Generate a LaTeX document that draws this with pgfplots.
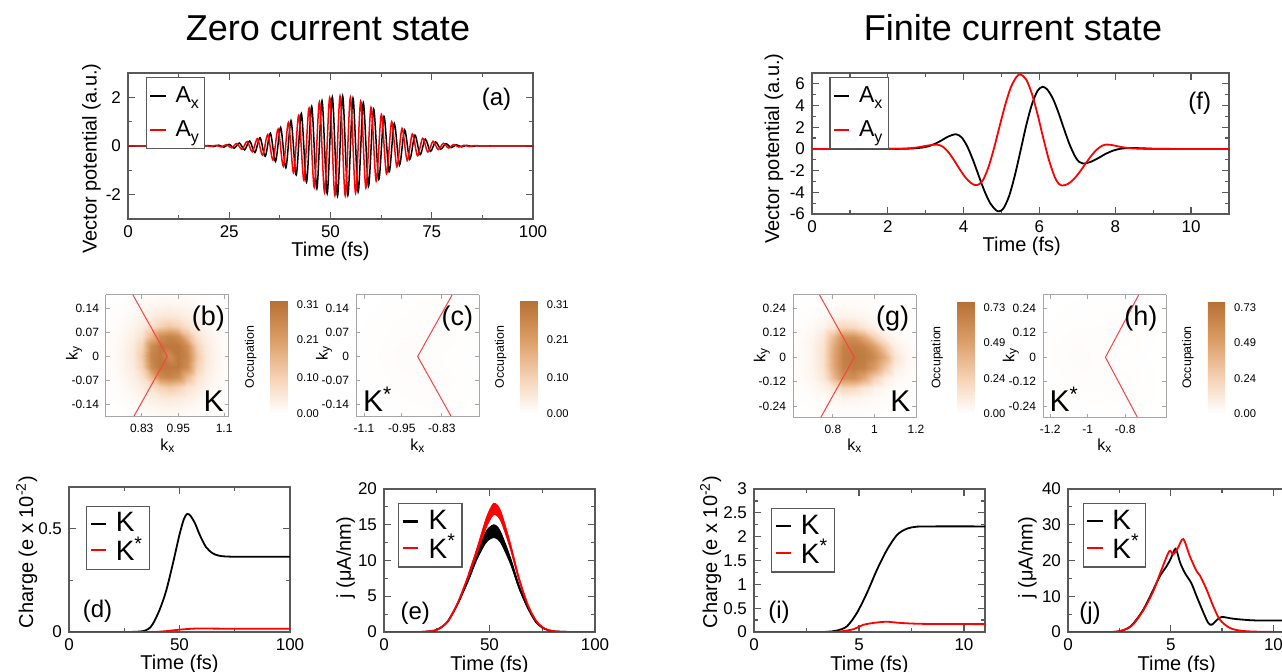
\documentclass[border=0pt]{standalone}
\usepackage{fontspec}
\setmainfont{Liberation Sans}
\usepackage{pgfplots}
\pgfplotsset{compat=1.18}

\newcommand\fTitle{\fontsize{18}{21}\selectfont}
\newcommand\fTick{\fontsize{8.5}{10}\selectfont}
\newcommand\fLab{\fontsize{10}{12}\selectfont}
\newcommand\fLeg{\fontsize{14}{15}\selectfont}
\newcommand\fLegA{\fontsize{11.5}{13}\selectfont}
\newcommand\fPan{\fontsize{12}{14}\selectfont}
\newcommand\fHtick{\fontsize{6}{7}\selectfont}
\newcommand\fCtick{\fontsize{5.6}{6.5}\selectfont}
\newcommand\fHlab{\fontsize{8}{9}\selectfont}
\newcommand\fHK{\fontsize{15}{17}\selectfont}
\newcommand\fHpan{\fontsize{13.5}{15}\selectfont}
\newcommand\fOcc{\fontsize{6.2}{7}\selectfont}
\newcommand\sub[1]{\raisebox{-0.5ex}{\fontsize{8}{8}\selectfont #1}}

\pgfplotsset{
  colormap={occ}{rgb255(0cm)=(255,255,255) rgb255(3cm)=(247,212,184) rgb255(6.5cm)=(220,158,104) rgb255(10cm)=(182,112,52)},
  lp/.style={scale only axis, anchor=south west,
    axis line style={black!65, line width=0.6pt},
    tick style={black!65, line width=0.6pt},
    tick align=inside, major tick length=3.5pt, minor tick length=2pt,
    ticklabel style={font=\fTick},
    /pgf/number format/assume math mode=true,
    clip mode=individual},
  leg/.style={legend style={at={(#1)}, anchor=north west, draw=black!65, line width=0.6pt,
      fill=white, font=\fLeg, inner xsep=1.5pt, inner ysep=1.5pt, row sep=-2pt,
      nodes={inner sep=1.5pt}, cells={anchor=west},
      /tikz/every odd column/.append style={column sep=3pt}},
    legend image code/.code={\draw[##1, line width=0.9pt] (0pt,0pt) -- (7.7pt,0pt);}},
  hm/.style={scale only axis, anchor=south west, view={0}{90}, width=61.5pt,
    axis line style={black!35, line width=0.5pt},
    tick style={black!35, line width=0.4pt},
    tick align=inside, major tick length=2.2pt, minor tick length=1.2pt,
    ticklabel style={font=\fHtick},
    enlargelimits=false, axis on top, colormap name=occ, point meta min=0,
    clip mode=individual, colorbar},
  cb/.style n args={3}{colorbar style={at={(parent axis.south east)}, anchor=south west,
      xshift=#1, yshift=#2, width=8.7pt, height=#3,
      axis line style={draw=none}, major tick length=0pt, minor tick num=0,
      yticklabel style={font=\fCtick, xshift=1pt},
      every axis y label/.style={at={(axis description cs:-0.4,0.5)}, anchor=south, rotate=90, font=\fOcc},
      ylabel=Occupation}},
}

\begin{document}
\begin{tikzpicture}
\useasboundingbox (0,0) rectangle (641pt,336pt);

\node[font=\fTitle, anchor=base] at (164pt,315.5pt) {Zero current state};
\node[font=\fTitle, anchor=base] at (506.5pt,315.5pt) {Finite current state};

% ---------------- (a)
\begin{axis}[lp, at={(64pt,226.5pt)}, width=202.5pt, height=73pt,
  xmin=0, xmax=100, ymin=-3, ymax=3, xtick={0,25,50,75,100}, ytick={-2,0,2},
  minor tick num=1, leg={0.0437,0.9705}, legend style={font=\fLegA, row sep=4.5pt, inner ysep=3pt}]
\addplot[draw=black, line width=0.75pt, smooth] coordinates {
(0,0) (10,0) (18.5,0)
(19.85,0.016) (21.13,-0.023) (22.40,0.033) (23.68,-0.047) (24.95,0.065) (26.23,-0.089)
(27.50,0.120) (28.78,-0.159) (30.05,0.207) (31.33,-0.267) (32.60,0.339) (33.88,-0.424)
(35.15,0.522) (36.43,-0.633) (37.70,0.758) (38.98,-0.893) (40.25,1.037) (41.53,-1.186)
(42.80,1.337) (44.08,-1.485) (45.35,1.625) (46.63,-1.752) (47.90,1.862) (49.18,-1.950)
(50.45,2.011) (51.73,-2.044) (53.00,2.048) (54.28,-2.021) (55.55,1.965) (56.83,-1.883)
(58.10,1.778) (59.38,-1.654) (60.65,1.516) (61.93,-1.369) (63.20,1.218) (64.48,-1.068)
(65.75,0.923) (67.03,-0.786) (68.30,0.659) (69.58,-0.545) (70.85,0.444) (72.13,-0.356)
(73.40,0.282) (74.68,-0.219) (75.95,0.168) (77.23,-0.127) (78.50,0.095) (79.78,-0.070)
(81.05,0.050) (82.33,-0.036) (83.60,0.025) (84.88,-0.018) (86.15,0.012)
(87.5,0) (95,0) (100,0)};
\addplot[draw=red, line width=0.75pt, smooth] coordinates {
(0,0) (10,0) (17.9,0)
(19.21,0.013) (20.49,-0.019) (21.76,0.028) (23.04,-0.040) (24.31,0.055) (25.59,-0.076)
(26.86,0.103) (28.14,-0.138) (29.41,0.182) (30.69,-0.236) (31.96,0.301) (33.24,-0.379)
(34.51,0.471) (35.79,-0.576) (37.06,0.694) (38.34,-0.824) (39.61,0.963) (40.89,-1.110)
(42.16,1.261) (43.44,-1.411) (44.71,1.556) (45.99,-1.690) (47.26,1.810) (48.54,-1.909)
(49.81,1.984) (51.09,-2.031) (52.36,2.050) (53.64,-2.038) (54.91,1.997) (56.19,-1.927)
(57.46,1.833) (58.74,-1.718) (60.01,1.587) (61.29,-1.443) (62.56,1.294) (63.84,-1.143)
(65.11,0.995) (66.39,-0.853) (67.66,0.721) (68.94,-0.600) (70.21,0.493) (71.49,-0.398)
(72.76,0.317) (74.04,-0.249) (75.31,0.193) (76.59,-0.147) (77.86,0.110) (79.14,-0.082)
(80.41,0.059) (81.69,-0.043) (82.96,0.030) (84.24,-0.021) (85.51,0.015)
(86.8,0) (95,0) (100,0)};
\legend{A\sub{x}, A\sub{y}}
\node[font=\fPan] at (axis description cs:0.91,0.82) {(a)};
\node[font=\fLab, rotate=90] at (axis description cs:-0.090,0.414) {Vector potential (a.u.)};
\node[font=\fLab, anchor=base] at (axis description cs:0.5,-0.258) {Time (fs)};
\end{axis}

% ---------------- (f)
\begin{axis}[lp, at={(406pt,229pt)}, width=208.5pt, height=70.5pt,
  xmin=0, xmax=11, ymin=-6, ymax=7, xtick={0,2,4,6,8,10}, ytick={-6,-4,-2,0,2,4,6},
  minor tick num=1, leg={0.0415,0.9695}, legend style={font=\fLegA, row sep=4.5pt, inner ysep=3pt}]
\addplot[draw=black, line width=0.9pt, smooth] coordinates {
(0,0) (2,0) (2.5,0.02) (2.8,0.08) (3.0,0.18) (3.2,0.4) (3.4,0.75) (3.6,1.15) (3.8,1.35)
(3.95,1.05) (4.1,0.2) (4.25,-1.05) (4.4,-2.49) (4.55,-3.89) (4.7,-5.0) (4.85,-5.64)
(4.94,-5.75) (5.05,-5.49) (5.2,-4.34) (5.35,-2.46) (5.5,-0.18) (5.65,2.15) (5.8,4.09)
(5.95,5.36) (6.08,5.72) (6.2,5.5) (6.35,4.67) (6.5,3.36) (6.65,1.82) (6.8,0.36)
(6.95,-0.76) (7.05,-1.2) (7.15,-1.35) (7.35,-1.2) (7.55,-0.85) (7.75,-0.45) (7.95,-0.15)
(8.15,0.02) (8.4,0.08) (8.7,0.06) (9.0,0.02) (9.5,0) (11,0)};
\addplot[draw=red, line width=0.9pt, smooth] coordinates {
(0,0) (2,0) (2.5,0.04) (2.8,0.15) (3.0,0.28) (3.2,0.38) (3.3,0.4) (3.45,0.21) (3.6,-0.31)
(3.75,-1.06) (3.9,-1.89) (4.05,-2.64) (4.2,-3.16) (4.35,-3.35) (4.5,-2.93) (4.65,-1.73)
(4.8,0.05) (4.95,2.1) (5.1,4.1) (5.25,5.72) (5.4,6.67) (5.5,6.86) (5.65,6.4) (5.8,5.09)
(5.95,3.18) (6.1,1.01) (6.25,-1.02) (6.4,-2.57) (6.5,-3.17) (6.6,-3.38) (6.75,-3.23)
(6.9,-2.81) (7.05,-2.18) (7.2,-1.44) (7.35,-0.71) (7.5,-0.1) (7.65,0.29) (7.78,0.4)
(7.95,0.33) (8.15,0.18) (8.4,0.06) (8.7,0.01) (9.0,0) (11,0)};
\legend{A\sub{x}, A\sub{y}}
\node[font=\fPan] at (axis description cs:0.93,0.785) {(f)};
\node[font=\fLab, rotate=90] at (axis description cs:-0.091,0.465) {Vector potential (a.u.)};
\node[font=\fLab, anchor=base] at (axis description cs:0.503,-0.267) {Time (fs)};
\end{axis}

% ---------------- (b)
\begin{axis}[hm, at={(53pt,127.5pt)}, height=61pt,
  xmin=0.713, xmax=1.116, ymin=-0.177, ymax=0.18,
  xtick={0.83,0.95,1.1}, xticklabels={0.83,0.95,1.1},
  ytick={-0.14,-0.07,0,0.07,0.14}, yticklabels={-0.14,-0.07,0,0.07,0.14},
  point meta max=0.32, cb={12.2pt}{1.85pt}{56.3pt},
  colorbar style={ytick={0,0.10,0.21,0.31}, yticklabels={0.00,0.10,0.21,0.31}}]
\addplot3[surf, shader=interp, mesh/cols=15] coordinates {
(0.71,-0.18,0) (0.74,-0.18,0.001) (0.77,-0.18,0.002) (0.80,-0.18,0.004) (0.83,-0.18,0.005) (0.86,-0.18,0.008) (0.89,-0.18,0.01) (0.92,-0.18,0.01) (0.95,-0.18,0.01) (0.98,-0.18,0.008) (1.01,-0.18,0.005) (1.04,-0.18,0.004) (1.07,-0.18,0.002) (1.10,-0.18,0.001) (1.13,-0.18,0)
(0.71,-0.15,0.001) (0.74,-0.15,0.002) (0.77,-0.15,0.004) (0.80,-0.15,0.007) (0.83,-0.15,0.012) (0.86,-0.15,0.018) (0.89,-0.15,0.022) (0.92,-0.15,0.025) (0.95,-0.15,0.022) (0.98,-0.15,0.018) (1.01,-0.15,0.012) (1.04,-0.15,0.007) (1.07,-0.15,0.004) (1.10,-0.15,0.002) (1.13,-0.15,0.001)
(0.71,-0.12,0.002) (0.74,-0.12,0.004) (0.77,-0.12,0.007) (0.80,-0.12,0.014) (0.83,-0.12,0.024) (0.86,-0.12,0.035) (0.89,-0.12,0.045) (0.92,-0.12,0.05) (0.95,-0.12,0.045) (0.98,-0.12,0.035) (1.01,-0.12,0.024) (1.04,-0.12,0.014) (1.07,-0.12,0.007) (1.10,-0.12,0.004) (1.13,-0.12,0.002)
(0.71,-0.09,0.003) (0.74,-0.09,0.005) (0.77,-0.09,0.012) (0.80,-0.09,0.024) (0.83,-0.09,0.04) (0.86,-0.09,0.065) (0.89,-0.09,0.10) (0.92,-0.09,0.12) (0.95,-0.09,0.10) (0.98,-0.09,0.065) (1.01,-0.09,0.04) (1.04,-0.09,0.024) (1.07,-0.09,0.012) (1.10,-0.09,0.005) (1.13,-0.09,0.003)
(0.71,-0.06,0.004) (0.74,-0.06,0.008) (0.77,-0.06,0.018) (0.80,-0.06,0.035) (0.83,-0.06,0.065) (0.86,-0.06,0.15) (0.89,-0.06,0.25) (0.92,-0.06,0.27) (0.95,-0.06,0.25) (0.98,-0.06,0.15) (1.01,-0.06,0.065) (1.04,-0.06,0.035) (1.07,-0.06,0.018) (1.10,-0.06,0.008) (1.13,-0.06,0.004)
(0.71,-0.03,0.005) (0.74,-0.03,0.01) (0.77,-0.03,0.022) (0.80,-0.03,0.045) (0.83,-0.03,0.10) (0.86,-0.03,0.25) (0.89,-0.03,0.30) (0.92,-0.03,0.30) (0.95,-0.03,0.30) (0.98,-0.03,0.25) (1.01,-0.03,0.10) (1.04,-0.03,0.045) (1.07,-0.03,0.022) (1.10,-0.03,0.01) (1.13,-0.03,0.005)
(0.71,0,0.005) (0.74,0,0.01) (0.77,0,0.025) (0.80,0,0.05) (0.83,0,0.12) (0.86,0,0.27) (0.89,0,0.30) (0.92,0,0.25) (0.95,0,0.30) (0.98,0,0.27) (1.01,0,0.12) (1.04,0,0.05) (1.07,0,0.025) (1.10,0,0.01) (1.13,0,0.005)
(0.71,0.03,0.005) (0.74,0.03,0.01) (0.77,0.03,0.022) (0.80,0.03,0.045) (0.83,0.03,0.10) (0.86,0.03,0.25) (0.89,0.03,0.30) (0.92,0.03,0.30) (0.95,0.03,0.30) (0.98,0.03,0.25) (1.01,0.03,0.10) (1.04,0.03,0.045) (1.07,0.03,0.022) (1.10,0.03,0.01) (1.13,0.03,0.005)
(0.71,0.06,0.004) (0.74,0.06,0.008) (0.77,0.06,0.018) (0.80,0.06,0.035) (0.83,0.06,0.065) (0.86,0.06,0.15) (0.89,0.06,0.25) (0.92,0.06,0.27) (0.95,0.06,0.25) (0.98,0.06,0.15) (1.01,0.06,0.065) (1.04,0.06,0.035) (1.07,0.06,0.018) (1.10,0.06,0.008) (1.13,0.06,0.004)
(0.71,0.09,0.003) (0.74,0.09,0.005) (0.77,0.09,0.012) (0.80,0.09,0.024) (0.83,0.09,0.04) (0.86,0.09,0.065) (0.89,0.09,0.10) (0.92,0.09,0.12) (0.95,0.09,0.10) (0.98,0.09,0.065) (1.01,0.09,0.04) (1.04,0.09,0.024) (1.07,0.09,0.012) (1.10,0.09,0.005) (1.13,0.09,0.003)
(0.71,0.12,0.002) (0.74,0.12,0.004) (0.77,0.12,0.007) (0.80,0.12,0.014) (0.83,0.12,0.024) (0.86,0.12,0.035) (0.89,0.12,0.045) (0.92,0.12,0.05) (0.95,0.12,0.045) (0.98,0.12,0.035) (1.01,0.12,0.024) (1.04,0.12,0.014) (1.07,0.12,0.007) (1.10,0.12,0.004) (1.13,0.12,0.002)
(0.71,0.15,0.001) (0.74,0.15,0.002) (0.77,0.15,0.004) (0.80,0.15,0.007) (0.83,0.15,0.012) (0.86,0.15,0.018) (0.89,0.15,0.022) (0.92,0.15,0.025) (0.95,0.15,0.022) (0.98,0.15,0.018) (1.01,0.15,0.012) (1.04,0.15,0.007) (1.07,0.15,0.004) (1.10,0.15,0.002) (1.13,0.15,0.001)
(0.71,0.18,0) (0.74,0.18,0.001) (0.77,0.18,0.002) (0.80,0.18,0.004) (0.83,0.18,0.005) (0.86,0.18,0.008) (0.89,0.18,0.01) (0.92,0.18,0.01) (0.95,0.18,0.01) (0.98,0.18,0.008) (1.01,0.18,0.005) (1.04,0.18,0.004) (1.07,0.18,0.002) (1.10,0.18,0.001) (1.13,0.18,0)
};
\addplot3[draw=red!75, line width=0.5pt] coordinates {(0.795,0.19,0) (0.914,0,0) (0.795,-0.19,0)};
\node[font=\fHpan] at (axis description cs:0.832,0.811) {(b)};
\node[font=\fHK, anchor=base west, inner sep=0pt] at (axis description cs:0.791,0.043) {K};
\node[font=\fHlab, rotate=90] at (axis description cs:-0.26,0.525) {k\textsubscript{y}};
\node[font=\fHlab] at (axis description cs:0.504,-0.238) {k\textsubscript{x}};
\end{axis}

% ---------------- (c)
\begin{axis}[hm, at={(178pt,127.5pt)}, height=61pt,
  xmin=-1.116, xmax=-0.713, ymin=-0.177, ymax=0.18,
  xtick={-1.09,-0.966,-0.835}, xticklabels={-1.1,-0.95,-0.83},
  ytick={-0.14,-0.07,0,0.07,0.14}, yticklabels={-0.14,-0.07,0,0.07,0.14},
  point meta max=0.32, cb={12.15pt}{1.85pt}{56.3pt},
  colorbar style={ytick={0,0.10,0.21,0.31}, yticklabels={0.00,0.10,0.21,0.31}}]
\addplot3[surf, shader=interp, mesh/cols=10] coordinates {
(-1.13,-0.18,0) (-1.08,-0.18,0) (-1.03,-0.18,0.001) (-0.98,-0.18,0.001) (-0.93,-0.18,0.002) (-0.88,-0.18,0.002) (-0.83,-0.18,0.002) (-0.78,-0.18,0.001) (-0.73,-0.18,0) (-0.68,-0.18,0)
(-1.13,-0.12,0) (-1.08,-0.12,0.001) (-1.03,-0.12,0.002) (-0.98,-0.12,0.003) (-0.93,-0.12,0.004) (-0.88,-0.12,0.005) (-0.83,-0.12,0.004) (-0.78,-0.12,0.002) (-0.73,-0.12,0.001) (-0.68,-0.12,0)
(-1.13,-0.06,0.001) (-1.08,-0.06,0.002) (-1.03,-0.06,0.003) (-0.98,-0.06,0.005) (-0.93,-0.06,0.006) (-0.88,-0.06,0.006) (-0.83,-0.06,0.005) (-0.78,-0.06,0.003) (-0.73,-0.06,0.001) (-0.68,-0.06,0)
(-1.13,0,0.001) (-1.08,0,0.002) (-1.03,0,0.004) (-0.98,0,0.007) (-0.93,0,0.008) (-0.88,0,0.005) (-0.83,0,0.003) (-0.78,0,0.002) (-0.73,0,0.001) (-0.68,0,0)
(-1.13,0.06,0.001) (-1.08,0.06,0.002) (-1.03,0.06,0.003) (-0.98,0.06,0.005) (-0.93,0.06,0.006) (-0.88,0.06,0.006) (-0.83,0.06,0.005) (-0.78,0.06,0.003) (-0.73,0.06,0.001) (-0.68,0.06,0)
(-1.13,0.12,0) (-1.08,0.12,0.001) (-1.03,0.12,0.002) (-0.98,0.12,0.003) (-0.93,0.12,0.004) (-0.88,0.12,0.005) (-0.83,0.12,0.004) (-0.78,0.12,0.002) (-0.73,0.12,0.001) (-0.68,0.12,0)
(-1.13,0.18,0) (-1.08,0.18,0) (-1.03,0.18,0.001) (-0.98,0.18,0.001) (-0.93,0.18,0.002) (-0.88,0.18,0.002) (-0.83,0.18,0.002) (-0.78,0.18,0.001) (-0.73,0.18,0) (-0.68,0.18,0)
};
\addplot3[draw=red!75, line width=0.5pt] coordinates {(-0.795,0.19,0) (-0.914,0,0) (-0.795,-0.19,0)};
\node[font=\fHpan] at (axis description cs:0.825,0.811) {(c)};
\node[font=\fHK, anchor=base west, inner sep=0pt] at (axis description cs:0.054,0.043) {K\textsuperscript{*}};
\node[font=\fHlab, rotate=90] at (axis description cs:-0.26,0.525) {k\textsubscript{y}};
\node[font=\fHlab] at (axis description cs:0.504,-0.238) {k\textsubscript{x}};
\end{axis}

% ---------------- (g)
\begin{axis}[hm, at={(396.5pt,127pt)}, height=61.5pt,
  xmin=0.608, xmax=1.2, ymin=-0.297, ymax=0.305,
  xtick={0.8,1,1.2}, xticklabels={0.8,1,1.2},
  ytick={-0.24,-0.12,0,0.12,0.24}, yticklabels={-0.24,-0.12,0,0.12,0.24},
  point meta max=0.77, cb={12pt}{2.35pt}{55.8pt},
  colorbar style={ytick={0,0.24,0.49,0.73}, yticklabels={0.00,0.24,0.49,0.73}}]
\addplot3[surf, shader=interp, mesh/cols=13] coordinates {
(0.60,-0.30,0.002) (0.65,-0.30,0.003) (0.70,-0.30,0.005) (0.75,-0.30,0.007) (0.80,-0.30,0.01) (0.85,-0.30,0.012) (0.90,-0.30,0.011) (0.95,-0.30,0.009) (1.00,-0.30,0.007) (1.05,-0.30,0.005) (1.10,-0.30,0.003) (1.15,-0.30,0.002) (1.20,-0.30,0.001)
(0.60,-0.25,0.003) (0.65,-0.25,0.005) (0.70,-0.25,0.008) (0.75,-0.25,0.014) (0.80,-0.25,0.02) (0.85,-0.25,0.025) (0.90,-0.25,0.023) (0.95,-0.25,0.018) (1.00,-0.25,0.013) (1.05,-0.25,0.009) (1.10,-0.25,0.005) (1.15,-0.25,0.003) (1.20,-0.25,0.002)
(0.60,-0.20,0.005) (0.65,-0.20,0.01) (0.70,-0.20,0.015) (0.75,-0.20,0.025) (0.80,-0.20,0.045) (0.85,-0.20,0.065) (0.90,-0.20,0.06) (0.95,-0.20,0.045) (1.00,-0.20,0.03) (1.05,-0.20,0.018) (1.10,-0.20,0.01) (1.15,-0.20,0.006) (1.20,-0.20,0.003)
(0.60,-0.15,0.008) (0.65,-0.15,0.015) (0.70,-0.15,0.03) (0.75,-0.15,0.06) (0.80,-0.15,0.13) (0.85,-0.15,0.22) (0.90,-0.15,0.20) (0.95,-0.15,0.13) (1.00,-0.15,0.07) (1.05,-0.15,0.035) (1.10,-0.15,0.018) (1.15,-0.15,0.01) (1.20,-0.15,0.006)
(0.60,-0.10,0.012) (0.65,-0.10,0.025) (0.70,-0.10,0.05) (0.75,-0.10,0.12) (0.80,-0.10,0.35) (0.85,-0.10,0.58) (0.90,-0.10,0.58) (0.95,-0.10,0.45) (1.00,-0.10,0.25) (1.05,-0.10,0.10) (1.10,-0.10,0.04) (1.15,-0.10,0.02) (1.20,-0.10,0.01)
(0.60,-0.05,0.015) (0.65,-0.05,0.03) (0.70,-0.05,0.06) (0.75,-0.05,0.15) (0.80,-0.05,0.43) (0.85,-0.05,0.66) (0.90,-0.05,0.70) (0.95,-0.05,0.66) (1.00,-0.05,0.52) (1.05,-0.05,0.28) (1.10,-0.05,0.09) (1.15,-0.05,0.04) (1.20,-0.05,0.015)
(0.60,0,0.015) (0.65,0,0.03) (0.70,0,0.06) (0.75,0,0.16) (0.80,0,0.45) (0.85,0,0.68) (0.90,0,0.72) (0.95,0,0.70) (1.00,0,0.62) (1.05,0,0.42) (1.10,0,0.15) (1.15,0,0.05) (1.20,0,0.02)
(0.60,0.05,0.015) (0.65,0.05,0.03) (0.70,0.05,0.06) (0.75,0.05,0.15) (0.80,0.05,0.43) (0.85,0.05,0.66) (0.90,0.05,0.70) (0.95,0.05,0.66) (1.00,0.05,0.52) (1.05,0.05,0.28) (1.10,0.05,0.09) (1.15,0.05,0.04) (1.20,0.05,0.015)
(0.60,0.10,0.012) (0.65,0.10,0.025) (0.70,0.10,0.05) (0.75,0.10,0.12) (0.80,0.10,0.35) (0.85,0.10,0.58) (0.90,0.10,0.58) (0.95,0.10,0.45) (1.00,0.10,0.25) (1.05,0.10,0.10) (1.10,0.10,0.04) (1.15,0.10,0.02) (1.20,0.10,0.01)
(0.60,0.15,0.008) (0.65,0.15,0.015) (0.70,0.15,0.03) (0.75,0.15,0.06) (0.80,0.15,0.13) (0.85,0.15,0.22) (0.90,0.15,0.20) (0.95,0.15,0.13) (1.00,0.15,0.07) (1.05,0.15,0.035) (1.10,0.15,0.018) (1.15,0.15,0.01) (1.20,0.15,0.006)
(0.60,0.20,0.005) (0.65,0.20,0.01) (0.70,0.20,0.015) (0.75,0.20,0.025) (0.80,0.20,0.045) (0.85,0.20,0.065) (0.90,0.20,0.06) (0.95,0.20,0.045) (1.00,0.20,0.03) (1.05,0.20,0.018) (1.10,0.20,0.01) (1.15,0.20,0.006) (1.20,0.20,0.003)
(0.60,0.25,0.003) (0.65,0.25,0.005) (0.70,0.25,0.008) (0.75,0.25,0.014) (0.80,0.25,0.02) (0.85,0.25,0.025) (0.90,0.25,0.023) (0.95,0.25,0.018) (1.00,0.25,0.013) (1.05,0.25,0.009) (1.10,0.25,0.005) (1.15,0.25,0.003) (1.20,0.25,0.002)
(0.60,0.30,0.002) (0.65,0.30,0.003) (0.70,0.30,0.005) (0.75,0.30,0.007) (0.80,0.30,0.01) (0.85,0.30,0.012) (0.90,0.30,0.011) (0.95,0.30,0.009) (1.00,0.30,0.007) (1.05,0.30,0.005) (1.10,0.30,0.003) (1.15,0.30,0.002) (1.20,0.30,0.001)
};
\addplot3[draw=red!75, line width=0.5pt] coordinates {(0.733,0.31,0) (0.903,0,0) (0.733,-0.31,0)};
\node[font=\fHpan] at (axis description cs:0.809,0.805) {(g)};
\node[font=\fHK, anchor=base west, inner sep=0pt] at (axis description cs:0.789,0.051) {K};
\node[font=\fHlab, rotate=90] at (axis description cs:-0.254,0.512) {k\textsubscript{y}};
\node[font=\fHlab] at (axis description cs:0.504,-0.228) {k\textsubscript{x}};
\end{axis}

% ---------------- (h)
\begin{axis}[hm, at={(521.5pt,127pt)}, height=61.5pt,
  xmin=-1.239, xmax=-0.583, ymin=-0.297, ymax=0.305,
  xtick={-1.2,-1,-0.8}, xticklabels={-1.2,-1,-0.8},
  ytick={-0.24,-0.12,0,0.12,0.24}, yticklabels={-0.24,-0.12,0,0.12,0.24},
  point meta max=0.77, cb={12.35pt}{2.35pt}{55.8pt},
  colorbar style={ytick={0,0.24,0.49,0.73}, yticklabels={0.00,0.24,0.49,0.73}}]
\addplot3[surf, shader=interp, mesh/cols=8] coordinates {
(-1.25,-0.3,0) (-1.15,-0.3,0.001) (-1.05,-0.3,0.002) (-0.95,-0.3,0.003) (-0.85,-0.3,0.004) (-0.75,-0.3,0.003) (-0.65,-0.3,0.001) (-0.55,-0.3,0)
(-1.25,-0.2,0.001) (-1.15,-0.2,0.003) (-1.05,-0.2,0.005) (-0.95,-0.2,0.007) (-0.85,-0.2,0.01) (-0.75,-0.2,0.007) (-0.65,-0.2,0.003) (-0.55,-0.2,0.001)
(-1.25,-0.1,0.002) (-1.15,-0.1,0.008) (-1.05,-0.1,0.012) (-0.95,-0.1,0.01) (-0.85,-0.1,0.012) (-0.75,-0.1,0.008) (-0.65,-0.1,0.003) (-0.55,-0.1,0.001)
(-1.25,0,0.003) (-1.15,0,0.012) (-1.05,0,0.02) (-0.95,0,0.012) (-0.85,0,0.006) (-0.75,0,0.004) (-0.65,0,0.002) (-0.55,0,0.001)
(-1.25,0.1,0.002) (-1.15,0.1,0.008) (-1.05,0.1,0.012) (-0.95,0.1,0.01) (-0.85,0.1,0.012) (-0.75,0.1,0.008) (-0.65,0.1,0.003) (-0.55,0.1,0.001)
(-1.25,0.2,0.001) (-1.15,0.2,0.003) (-1.05,0.2,0.005) (-0.95,0.2,0.007) (-0.85,0.2,0.01) (-0.75,0.2,0.007) (-0.65,0.2,0.003) (-0.55,0.2,0.001)
(-1.25,0.3,0) (-1.15,0.3,0.001) (-1.05,0.3,0.002) (-0.95,0.3,0.003) (-0.85,0.3,0.004) (-0.75,0.3,0.003) (-0.65,0.3,0.001) (-0.55,0.3,0)
};
\addplot3[draw=red!75, line width=0.5pt] coordinates {(-0.726,0.31,0) (-0.906,0,0) (-0.726,-0.31,0)};
\node[font=\fHpan] at (axis description cs:0.795,0.805) {(h)};
\node[font=\fHK, anchor=base west, inner sep=0pt] at (axis description cs:0.051,0.051) {K\textsuperscript{*}};
\node[font=\fHlab, rotate=90] at (axis description cs:-0.262,0.512) {k\textsubscript{y}};
\node[font=\fHlab] at (axis description cs:0.504,-0.228) {k\textsubscript{x}};
\end{axis}

% ---------------- (d)
\begin{axis}[lp, at={(34.5pt,20pt)}, width=110.5pt, height=72.5pt,
  xmin=0, xmax=100, ymin=0, ymax=0.7, xtick={0,50,100}, ytick={0,0.5},
  minor tick num=1, leg={0.077,0.869}]
\addplot[draw=black, line width=0.9pt, smooth] coordinates {
(0,0) (25,0) (30,0.001) (33.5,0.004) (36,0.015) (38,0.04) (41,0.107) (44,0.2) (47,0.33)
(50,0.47) (52,0.545) (53.5,0.57) (55,0.56) (57,0.525) (59.2,0.468) (62,0.41) (65,0.38)
(68,0.368) (72,0.364) (80,0.363) (100,0.363)};
\addplot[draw=red, line width=0.9pt, smooth] coordinates {
(0,0) (35,0) (40,0.001) (44,0.004) (48,0.009) (52,0.013) (56,0.016) (60,0.017) (70,0.016) (100,0.016)};
\legend{K, K\textsuperscript{*}}
\node[font=\fPan] at (axis description cs:0.129,0.14) {(d)};
\node[font=\fLab, rotate=90] at (axis description cs:-0.191,0.552) {Charge (e x 10\textsuperscript{-2})};
\node[font=\fLab, anchor=base] at (axis description cs:0.5,-0.262) {Time (fs)};
\end{axis}

% ---------------- (e)
\begin{axis}[lp, at={(192pt,20pt)}, width=105.5pt, height=71.5pt,
  xmin=0, xmax=100, ymin=0, ymax=20, xtick={0,50,100}, ytick={0,5,10,15,20},
  minor tick num=1, leg={0.065,0.9},
  legend image code/.code={\draw[#1] (0pt,0pt) -- (7.7pt,0pt);}]
\addplot[draw=black, fill=black, line width=0.4pt, smooth, forget plot] coordinates {
(35,4.05) (40,7.65) (44,11.1) (48,13.85) (50,14.65) (52,15.0) (54,14.65) (56,13.5) (60,10.35) (64,6.55) (68,3.6)
(68,3.4) (64,6.05) (60,9.45) (56,12.1) (54,12.95) (52,13.2) (50,12.95) (48,12.35) (44,10.1) (40,7.15) (35,3.95)} -- cycle;
\addplot[draw=black, line width=0.9pt, smooth, forget plot] coordinates {
(0,0) (15,0) (20,0.05) (25,0.3) (30,1.4) (35,4.0) (40,7.4) (44,10.6) (48,13.1) (50,13.8)
(52,14.1) (54,13.8) (56,12.8) (60,9.9) (64,6.3) (68,3.5) (72,1.4) (76,0.45) (80,0.12) (85,0.02) (90,0) (100,0)};
\addplot[draw=red, fill=red, line width=0.4pt, smooth, forget plot] coordinates {
(40,8.1) (44,11.7) (48,15.55) (50,17.05) (52,18.0) (54,17.65) (56,16.35) (60,12.3) (64,7.6) (68,3.98)
(68,3.82) (64,7.2) (60,11.5) (56,15.05) (54,16.15) (52,16.4) (50,15.55) (48,14.25) (44,10.9) (40,7.7)} -- cycle;
\addplot[draw=red, line width=0.9pt, smooth, forget plot] coordinates {
(0,0) (15,0) (20,0.05) (25,0.3) (30,1.4) (35,4.1) (40,7.9) (44,11.3) (48,14.9) (50,16.3)
(52,17.2) (54,16.9) (56,15.7) (60,11.9) (64,7.4) (68,3.9) (72,1.6) (76,0.5) (80,0.12) (85,0.03) (90,0) (100,0)};
\addlegendimage{draw=black, line width=1.5pt}
\addlegendimage{draw=red, line width=1pt}
\legend{K, K\textsuperscript{*}}
\node[font=\fPan] at (axis description cs:0.148,0.128) {(e)};
\node[font=\fLab, rotate=90] at (axis description cs:-0.181,0.521) {j (μA/nm)};
\node[font=\fLab, anchor=base] at (axis description cs:0.5,-0.266) {Time (fs)};
\end{axis}

% ---------------- (i)
\begin{axis}[lp, at={(377pt,20pt)}, width=115.5pt, height=71.5pt,
  xmin=0, xmax=11, ymin=0, ymax=3, xtick={0,5,10}, ytick={0,0.5,1,1.5,2,2.5,3},
  minor tick num=1, leg={0.074,0.865}]
\addplot[draw=black, line width=0.9pt, smooth] coordinates {
(0,0) (3,0) (3.5,0.005) (3.95,0.03) (4.43,0.12) (4.9,0.4) (5.38,0.82) (5.86,1.31) (6.34,1.73)
(6.82,2.04) (7.3,2.17) (7.77,2.21) (8.5,2.215) (11,2.215)};
\addplot[draw=red, line width=0.9pt, smooth] coordinates {
(0,0) (3.5,0) (4.1,0.01) (4.75,0.06) (5.2,0.15) (5.86,0.2) (6.34,0.215) (6.97,0.19) (8.1,0.17) (11,0.165)};
\legend{K, K\textsuperscript{*}}
\node[font=\fPan] at (axis description cs:0.108,0.14) {(i)};
\node[font=\fLab, rotate=90] at (axis description cs:-0.187,0.56) {Charge (e x 10\textsuperscript{-2})};
\node[font=\fLab, anchor=base] at (axis description cs:0.5,-0.266) {Time (fs)};
\end{axis}

% ---------------- (j)
\begin{axis}[lp, at={(534pt,20pt)}, width=113pt, height=71.5pt,
  xmin=0, xmax=11, ymin=0, ymax=40, xtick={0,5,10}, ytick={0,10,20,30,40},
  minor tick num=1, leg={0.065,0.9}]
\addplot[draw=black, line width=0.9pt, smooth] coordinates {
(0,0) (2,0) (2.5,0.2) (2.9,1.0) (3.2,2.5) (3.66,6.2) (4.15,11.8) (4.47,15.6) (4.8,18.4)
(5.0,20.5) (5.24,23.3) (5.45,19.5) (5.69,16.5) (6.0,13.7) (6.26,10) (6.6,5.3) (6.83,2.5)
(7.0,2.05) (7.24,3.3) (7.48,4.2) (8.05,3.7) (8.86,3.3) (9.5,3.2) (11,3.2)};
\addplot[draw=red, line width=0.9pt, smooth] coordinates {
(0,0) (2,0) (2.5,0.2) (2.9,1.0) (3.2,2.3) (3.66,6.0) (4.15,11.4) (4.55,17.4) (4.93,22.6)
(5.12,21.7) (5.35,23.5) (5.61,26) (5.93,21.2) (6.26,17) (6.42,15.8) (6.75,11.8) (7.07,7.2)
(7.4,3.4) (7.89,1.1) (8.5,0.3) (9.5,0.05) (11,0)};
\legend{K, K\textsuperscript{*}}
\node[font=\fPan] at (axis description cs:0.097,0.133) {(j)};
\node[font=\fLab, rotate=90] at (axis description cs:-0.179,0.521) {j (μA/nm)};
\node[font=\fLab, anchor=base] at (axis description cs:0.481,-0.266) {Time (fs)};
\end{axis}
\end{tikzpicture}
\end{document}
